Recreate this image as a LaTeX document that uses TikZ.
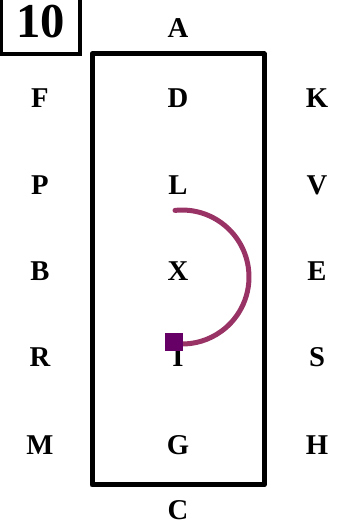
\documentclass[tikz,border=0pt]{standalone}
\usepackage{fontspec}
\setmainfont{Liberation Serif}
\usepackage{tikz}
\definecolor{arccol}{HTML}{993366}
\definecolor{sqcol}{HTML}{660066}

\begin{document}
\begin{tikzpicture}[x=0.75pt,y=0.75pt,
  lbl/.style={font=\bfseries\fontsize{21.5}{24}\selectfont, inner sep=0pt},
  num/.style={font=\bfseries\fontsize{36.5}{40}\selectfont, inner sep=0pt},
  arena/.style={line width=3.75pt, line join=round},
  numbox/.style={line width=3pt},
  marker/.style={fill=sqcol, minimum size=13.5pt, inner sep=0pt}]
\useasboundingbox (0,0) rectangle (338,526);
\draw[arena] (92,472) rectangle (264,41);
\begin{scope}
\clip (0,0) rectangle (338,526);
\draw[numbox] (1,540) rectangle (79.5,471.5);
\end{scope}
\node[num] (N) at (41,504) {10};
\node[lbl] (A) at (178,498) {A};
\node[lbl] (F) at (40,428) {F};
\node[lbl] (D) at (178,428) {D};
\node[lbl] (K) at (317,428) {K};
\node[lbl] (P) at (40,341) {P};
\node[lbl] (L) at (178,341) {L};
\node[lbl] (V) at (317,341) {V};
\node[lbl] (B) at (40,255) {B};
\node[lbl] (X) at (178,255) {X};
\node[lbl] (E) at (317,255) {E};
\node[lbl] (R) at (40,169) {R};
\node[lbl] (I) at (178,169) {I};
\node[lbl] (S) at (317,169) {S};
\node[lbl] (M) at (40,81) {M};
\node[lbl] (G) at (178,81) {G};
\node[lbl] (H) at (317,81) {H};
\node[lbl] (C) at (178,16) {C};
\coordinate (start) at (175,315.6);
\draw[arccol, line width=3.75pt, line cap=round] (start) arc[start angle=96, end angle=-92, radius=50.25pt];
\node[marker] (sq) at (174,184) {};
\end{tikzpicture}
\end{document}
